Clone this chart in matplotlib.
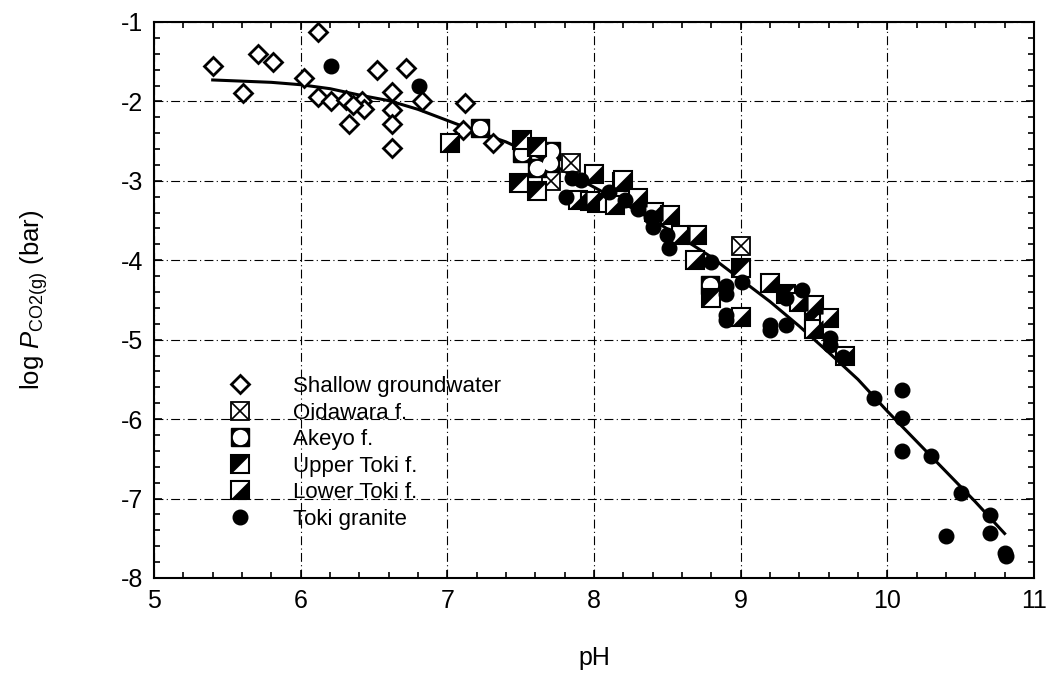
import matplotlib
matplotlib.use("Agg")
import matplotlib.pyplot as plt
from matplotlib.ticker import MultipleLocator

plt.rcParams['font.family'] = ['Liberation Sans', 'DejaVu Sans']
plt.rcParams['mathtext.fontset'] = 'custom'
plt.rcParams['mathtext.rm'] = 'Liberation Sans'
plt.rcParams['mathtext.it'] = 'Liberation Sans:italic'
plt.rcParams['axes.unicode_minus'] = False

# ---- data ----
shallow_ph = [5.40, 5.71, 5.81, 5.61, 6.12, 6.02, 6.12, 6.21, 6.31, 6.42, 6.43, 6.36,
              6.33, 6.52, 6.72, 6.62, 6.62, 6.62, 6.62, 6.83, 7.12, 7.11, 7.31]
shallow_p = [-1.56, -1.40, -1.50, -1.90, -1.12, -1.71, -1.94, -2.00, -1.98, -2.00, -2.09, -2.04,
             -2.28, -1.60, -1.58, -1.88, -2.11, -2.28, -2.59, -2.00, -2.02, -2.36, -2.53]

oida_ph = [7.84, 7.71, 9.00]
oida_p = [-2.77, -3.00, -3.82]

akeyo_ph = [7.22, 7.51, 7.71, 7.61, 7.70, 8.79]
akeyo_p = [-2.34, -2.65, -2.63, -2.84, -2.78, -4.31]

upper_ph = [7.51, 7.61, 7.49, 7.61, 8.19, 8.02, 8.80, 9.00, 9.31, 9.50]
upper_p = [-2.49, -2.57, -3.03, -3.13, -3.01, -3.28, -4.48, -4.10, -4.42, -4.73]

lower_ph = [7.02, 7.89, 7.97, 8.00, 8.14, 8.20, 8.30, 8.41, 8.52, 8.59, 8.70, 8.69,
            9.00, 9.20, 9.40, 9.50, 9.50, 9.60, 9.71]
lower_p = [-2.53, -3.24, -3.26, -2.92, -3.30, -2.99, -3.22, -3.39, -3.43, -3.68, -3.68, -4.00,
           -4.72, -4.29, -4.52, -4.56, -4.86, -4.73, -5.21]

granite_ph = [6.21, 6.81, 7.85, 7.91, 7.81, 8.10, 8.21, 8.30, 8.39, 8.40, 8.50, 8.51,
              8.80, 8.90, 8.90, 9.01, 8.90, 8.90, 9.20, 9.20, 9.31, 9.31, 9.42, 9.61,
              9.61, 9.70, 9.91, 10.10, 10.10, 10.10, 10.30, 10.50, 10.40, 10.70, 10.70,
              10.80, 10.81]
granite_p = [-1.55, -1.81, -2.97, -2.99, -3.20, -3.14, -3.24, -3.35, -3.45, -3.58, -3.68, -3.85,
             -4.02, -4.33, -4.42, -4.27, -4.69, -4.75, -4.82, -4.88, -4.82, -4.48, -4.38, -4.98,
             -5.07, -5.22, -5.73, -5.63, -5.98, -6.40, -6.46, -6.93, -7.47, -7.21, -7.43,
             -7.69, -7.72]

curve_ph = [5.4, 5.8, 6.0, 6.2, 6.4, 6.6, 6.8, 7.0, 7.2, 7.4, 7.6, 7.8, 8.0, 8.2, 8.4,
            8.6, 8.8, 9.0, 9.2, 9.4, 9.6, 9.8, 10.0, 10.2, 10.4, 10.6, 10.8]
curve_p = [-1.73, -1.76, -1.79, -1.84, -1.92, -1.99, -2.10, -2.24, -2.38, -2.51, -2.68, -2.88,
           -3.08, -3.28, -3.49, -3.72, -3.96, -4.24, -4.52, -4.83, -5.16, -5.50, -5.90, -6.28,
           -6.66, -7.04, -7.44]

x_ticks = [5, 6, 7, 8, 9, 10, 11]
y_ticks = [-8, -7, -6, -5, -4, -3, -2, -1]

# ---- figure ----
fig = plt.figure(figsize=(10.5, 6.76), dpi=100)
ax = fig.add_axes([0.1467, 0.145, 0.838, 0.8225])

ax.plot(curve_ph, curve_p, color='black', lw=2.2, zorder=2)

SQ = 12.5
ul_tri = [(-1, -1), (-1, 1), (1, 1), (-1, -1)]
lr_tri = [(-1, -1), (1, -1), (1, 1), (-1, -1)]

# shallow groundwater diamonds
h_sh, = ax.plot(shallow_ph, shallow_p, ls='none', marker='D', ms=8.8, mfc='white',
                mec='black', mew=2.0, zorder=3)

# Oidawara: square with X
h_o1, = ax.plot(oida_ph, oida_p, ls='none', marker='s', ms=SQ, mfc='white', mec='black', mew=1.3, zorder=4)
h_o2, = ax.plot(oida_ph, oida_p, ls='none', marker='x', ms=SQ - 1.5, mec='black', mew=1.2, zorder=4)

# Akeyo: black square with white circle
h_a1, = ax.plot(akeyo_ph, akeyo_p, ls='none', marker='s', ms=SQ, mfc='black', mec='black', mew=1.0, zorder=4)
h_a2, = ax.plot(akeyo_ph, akeyo_p, ls='none', marker='o', ms=SQ - 1.5, mfc='white', mec='none', zorder=4)

# Upper Toki: black upper-left half
h_u1, = ax.plot(upper_ph, upper_p, ls='none', marker='s', ms=SQ, mfc='white', mec='black', mew=1.5, zorder=4)
h_u2, = ax.plot(upper_ph, upper_p, ls='none', marker=ul_tri, ms=SQ, mfc='black', mec='black', mew=0.5, zorder=4)

# Lower Toki: black lower-right half
h_l1, = ax.plot(lower_ph, lower_p, ls='none', marker='s', ms=SQ, mfc='white', mec='black', mew=1.5, zorder=4)
h_l2, = ax.plot(lower_ph, lower_p, ls='none', marker=lr_tri, ms=SQ, mfc='black', mec='black', mew=0.5, zorder=4)

# Toki granite
h_g, = ax.plot(granite_ph, granite_p, ls='none', marker='o', ms=10.5, mfc='black', mec='black', zorder=5)

ax.set_xlim(5, 11)
ax.set_ylim(-8, -1)
ax.set_xticks(x_ticks)
ax.set_yticks(y_ticks)
ax.xaxis.set_minor_locator(MultipleLocator(0.2))
ax.yaxis.set_minor_locator(MultipleLocator(0.2))
ax.tick_params(which='both', direction='in', top=True, right=True, labelsize=18, width=1.2)
ax.tick_params(which='major', length=6, pad=8)
ax.tick_params(which='minor', length=4)
for s in ax.spines.values():
    s.set_linewidth(1.5)

ax.grid(True, which='major', color='black', ls=(0, (8, 3, 1, 3)), lw=0.8)
ax.set_axisbelow(True)

ax.set_xlabel('pH', fontsize=18, labelpad=24)
ax.set_ylabel(r'log $P_{\mathrm{CO2(g)}}$ (bar)', fontsize=18.5, labelpad=51)

leg = ax.legend([h_sh, (h_o1, h_o2), (h_a1, h_a2), (h_u1, h_u2), (h_l1, h_l2), h_g],
                ['Shallow groundwater', 'Oidawara f.', 'Akeyo f.', 'Upper Toki f.',
                 'Lower Toki f.', 'Toki granite'],
                loc='upper left', bbox_to_anchor=(229 / 1050, 1 - 376 / 676),
                bbox_transform=fig.transFigure, frameon=False, fontsize=16,
                handlelength=1.0, handletextpad=1.9, labelspacing=0.25,
                borderpad=0, borderaxespad=0, numpoints=1)

fig.savefig('out.png', dpi=100)
